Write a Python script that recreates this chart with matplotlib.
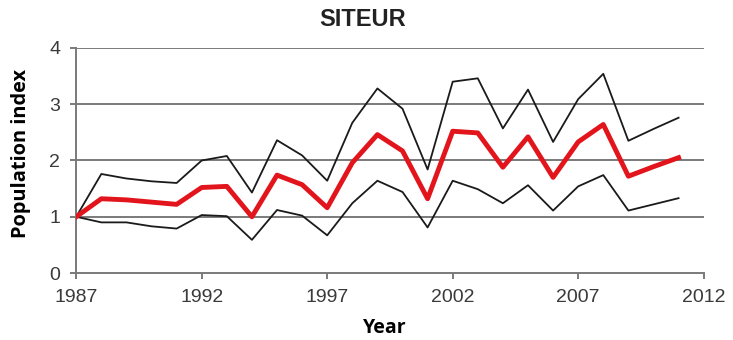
import matplotlib
matplotlib.use("Agg")
import matplotlib.pyplot as plt

years = list(range(1987, 2012))

index_mean = [1.00, 1.32, 1.30, 1.26, 1.22, 1.52, 1.54, 1.00, 1.74, 1.57,
              1.16, 1.96, 2.46, 2.17, 1.32, 2.52, 2.49, 1.88, 2.42, 1.70,
              2.33, 2.64, 1.72, 1.89, 2.05]
index_upper = [1.00, 1.76, 1.68, 1.63, 1.60, 2.00, 2.08, 1.43, 2.36, 2.09,
               1.64, 2.67, 3.28, 2.92, 1.84, 3.40, 3.46, 2.57, 3.26, 2.33,
               3.09, 3.54, 2.35, 2.56, 2.76]
index_lower = [1.00, 0.90, 0.90, 0.83, 0.79, 1.03, 1.01, 0.59, 1.12, 1.02,
               0.67, 1.24, 1.64, 1.44, 0.81, 1.64, 1.49, 1.24, 1.56, 1.11,
               1.54, 1.74, 1.11, 1.22, 1.33]

x_ticks = [1987, 1992, 1997, 2002, 2007, 2012]
y_ticks = [0, 1, 2, 3, 4]

grey = "#7a7a7a"

fig = plt.figure(figsize=(7.33, 3.4), dpi=100)
ax = fig.add_axes([0.104, 0.197, 0.856, 0.662])

for y in y_ticks[1:]:
    ax.axhline(y, color=grey, lw=1.4, zorder=1)

ax.plot(years, index_upper, color="#1a1a1a", lw=1.3, zorder=2)
ax.plot(years, index_lower, color="#1a1a1a", lw=1.3, zorder=2)
ax.plot(years, index_mean, color="#e3151c", lw=3.5, zorder=3)

ax.set_xlim(1987, 2012)
ax.set_ylim(0, 4)
ax.set_xticks(x_ticks)
ax.set_yticks(y_ticks)

for side in ("top", "right"):
    ax.spines[side].set_visible(False)
for side in ("left", "bottom"):
    ax.spines[side].set_color(grey)
    ax.spines[side].set_linewidth(1.4)

ax.tick_params(axis="both", direction="out", length=4.5, width=1.4,
               color=grey, labelsize=14, labelcolor="#3a3a3a")
ax.tick_params(axis="y", pad=7)
ax.tick_params(axis="x", pad=7)
for lbl in ax.get_xticklabels() + ax.get_yticklabels():
    lbl.set_family("Liberation Sans")

# title sits centred on the figure rather than the axes
fig.text(363 / 733, 1 - 20 / 340, "SITEUR", fontsize=17, fontweight="bold",
         family="Liberation Sans", color="#222222", ha="center", va="center")

ax.set_xlabel("Year", fontsize=14, fontweight="bold", family="Open Sans")
ax.xaxis.set_label_coords(0.492, -0.2)
ax.set_ylabel("Population index", fontsize=14.4, fontweight="bold", family="Open Sans")
ax.yaxis.set_label_coords(-0.072, 0.53)

fig.savefig("out.png", dpi=100)
